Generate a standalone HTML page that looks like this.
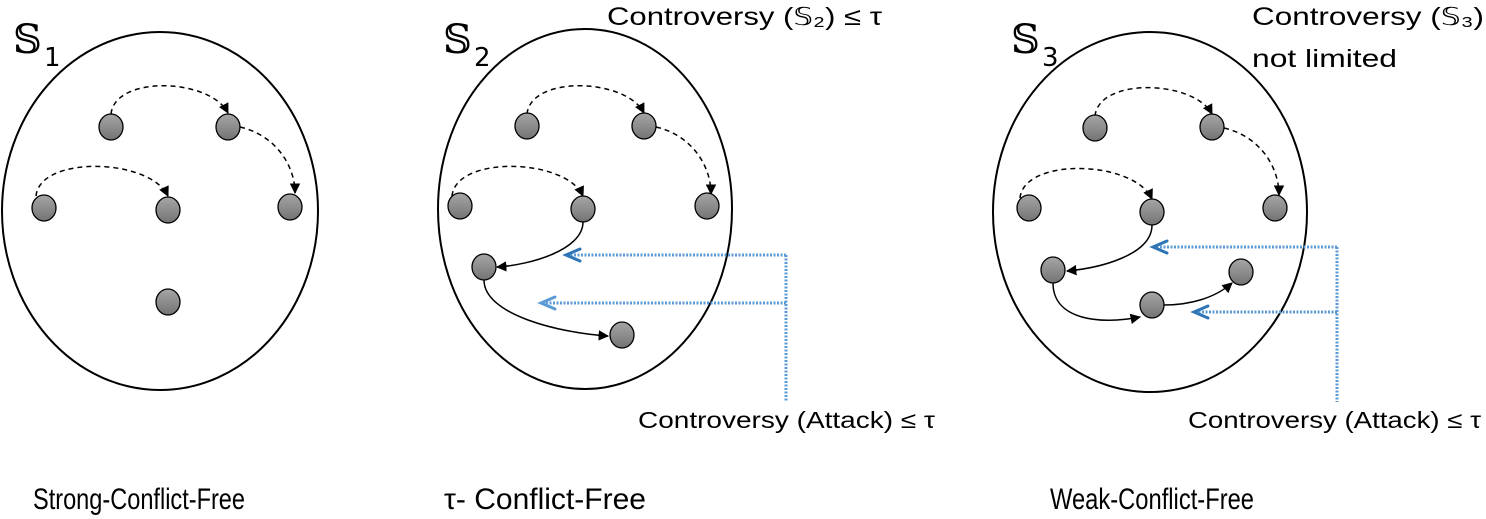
<!DOCTYPE html>
<html><head><meta charset="utf-8"><style>html,body{margin:0;padding:0;background:#fff;}svg{display:block}</style></head>
<body>
<svg width="1486" height="519" viewBox="0 0 1486 519" xmlns="http://www.w3.org/2000/svg" font-family="Liberation Sans, DejaVu Sans, sans-serif">
<defs>
<linearGradient id="g" x1="0" y1="0" x2="0" y2="1"><stop offset="0" stop-color="#a6a6a6"/><stop offset="1" stop-color="#737373"/></linearGradient>
<marker id="a" viewBox="0 0 10 10" refX="9" refY="5" markerWidth="7" markerHeight="7" orient="auto-start-reverse"><path d="M0,0 L10,5 L0,10 z" fill="#000"/></marker>
</defs>
<g fill="none" stroke="#000" stroke-width="2">
<ellipse cx="160" cy="211" rx="158" ry="179"/>
<ellipse cx="585" cy="209" rx="147" ry="180"/>
<ellipse cx="1150" cy="212" rx="157" ry="180"/>
</g>
<g fill="none" stroke="#000" stroke-width="1.5" stroke-dasharray="5,4" marker-end="url(#a)">
<path d="M111,114 C115,75 210,78 228,113"/>
<path d="M240,127 C275,135 295,165 295,193"/>
<path d="M36,196 C40,155 150,158 168,196"/>
<path d="M527,114 C531,75 626,78 644,113"/>
<path d="M656,127 C691,135 711,165 711,194"/>
<path d="M452,196 C456,155 566,158 583,196"/>
<path d="M1095,116 C1099,77 1194,80 1212,114"/>
<path d="M1224,128 C1259,136 1279,166 1279,195"/>
<path d="M1020,198 C1024,157 1134,160 1152,199"/>
</g>
<g fill="none" stroke="#000" stroke-width="1.5" marker-end="url(#a)">
<path d="M583,222 C583,250 530,265 497,267"/>
<path d="M484,280 C484,315 560,333 608,336"/>
<path d="M1152,225 C1152,255 1100,268 1067,271"/>
<path d="M1053,283 C1053,320 1100,325 1140,317"/>
<path d="M1164,305 C1190,305 1215,298 1232,283"/>
</g>
<g fill="none" stroke="#5b9bd5" stroke-width="3" stroke-dasharray="2,1.5">
<path d="M786,255 H566"/><path d="M786,303 H542"/><path d="M786,255 V402"/>
<path d="M1337,247 H1154"/><path d="M1337,312 H1196"/><path d="M1337,247 V402"/>
</g>
<g fill="none" stroke-width="3" stroke-linecap="round">
<path d="M580,249 L566,255 L580,261" stroke="#2e75b6"/>
<path d="M555,297 L541,303 L555,309" stroke="#5b9bd5"/>
<path d="M1167,241 L1153,247 L1167,253" stroke="#2e75b6"/>
<path d="M1208,306 L1194,312 L1208,318" stroke="#2e75b6"/>
</g>
<g fill="url(#g)" stroke="#000" stroke-width="1.3">
<ellipse cx="111" cy="127" rx="12" ry="13"/><ellipse cx="228" cy="127" rx="12" ry="13"/><ellipse cx="44" cy="208" rx="12" ry="13"/><ellipse cx="168" cy="210" rx="12" ry="13"/><ellipse cx="290" cy="207" rx="12" ry="13"/><ellipse cx="168" cy="302" rx="12" ry="13"/>
<ellipse cx="527" cy="126" rx="12" ry="13"/><ellipse cx="644" cy="126" rx="12" ry="13"/><ellipse cx="460" cy="206" rx="12" ry="13"/><ellipse cx="583" cy="209" rx="12" ry="13"/><ellipse cx="707" cy="206" rx="12" ry="13"/><ellipse cx="484" cy="267" rx="12" ry="13"/><ellipse cx="622" cy="335" rx="12" ry="13"/>
<ellipse cx="1095" cy="128" rx="12" ry="13"/><ellipse cx="1212" cy="127" rx="12" ry="13"/><ellipse cx="1029" cy="208" rx="12" ry="13"/><ellipse cx="1152" cy="212" rx="12" ry="13"/><ellipse cx="1275" cy="208" rx="12" ry="13"/><ellipse cx="1053" cy="270" rx="12" ry="13"/><ellipse cx="1152" cy="305" rx="12" ry="13"/><ellipse cx="1241" cy="272" rx="12" ry="13"/>
</g>
<g fill="#000">
<text x="13" y="53" font-size="40" font-family="DejaVu Serif, DejaVu Sans, serif">𝕊</text><text x="44" y="66" font-size="26" font-family="DejaVu Sans, sans-serif">1</text>
<text x="443" y="53" font-size="40" font-family="DejaVu Serif, DejaVu Sans, serif">𝕊</text><text x="474" y="66" font-size="26" font-family="DejaVu Sans, sans-serif">2</text>
<text x="1011" y="53" font-size="40" font-family="DejaVu Serif, DejaVu Sans, serif">𝕊</text><text x="1042" y="66" font-size="26" font-family="DejaVu Sans, sans-serif">3</text>
<text x="607" y="25" font-size="25" textLength="275" lengthAdjust="spacingAndGlyphs">Controversy (𝕊₂) ≤ τ</text>
<text x="1252" y="25" font-size="25" textLength="232" lengthAdjust="spacingAndGlyphs">Controversy (𝕊₃)</text>
<text x="1252" y="67" font-size="25" textLength="145" lengthAdjust="spacingAndGlyphs">not limited</text>
<text x="638" y="428" font-size="23" textLength="297" lengthAdjust="spacingAndGlyphs">Controversy (Attack) ≤ τ</text>
<text x="1188" y="428" font-size="23" textLength="293" lengthAdjust="spacingAndGlyphs">Controversy (Attack) ≤ τ</text>
<text x="33" y="509" font-size="30" textLength="212" lengthAdjust="spacingAndGlyphs">Strong-Conflict-Free</text>
<text x="444" y="509" font-size="30" textLength="202" lengthAdjust="spacingAndGlyphs">τ- Conflict-Free</text>
<text x="1050" y="509" font-size="30" textLength="204" lengthAdjust="spacingAndGlyphs">Weak-Conflict-Free</text>
</g>
</svg>
</body></html>
